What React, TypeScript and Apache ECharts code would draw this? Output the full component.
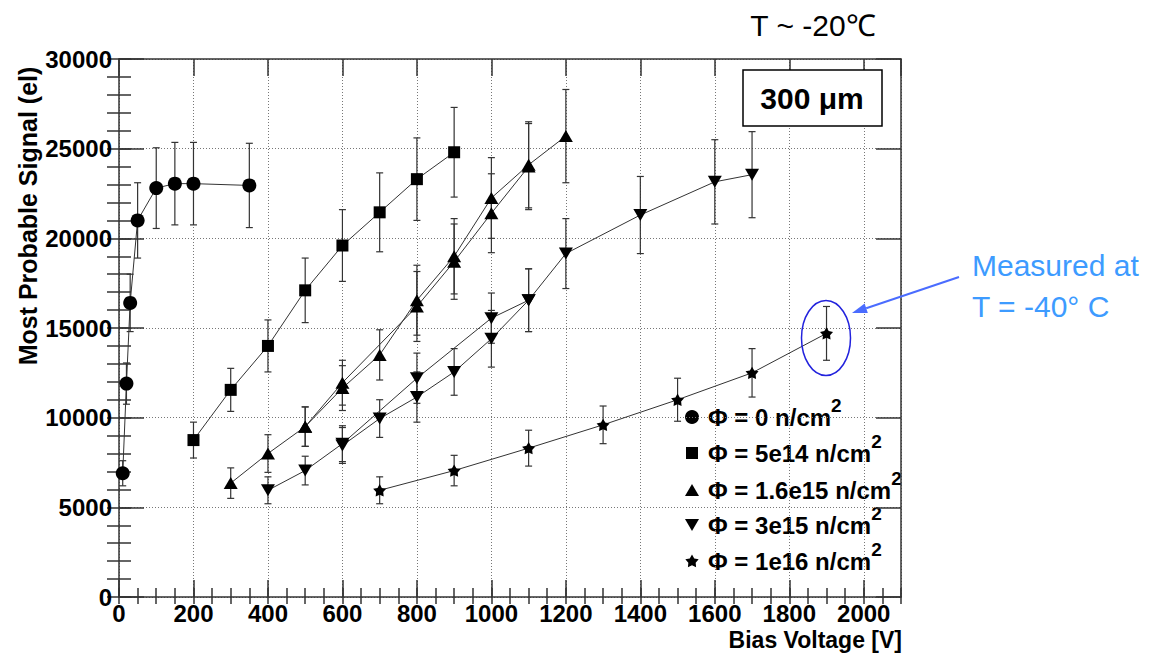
import React, { useEffect, useRef } from "react";
import * as echarts from "echarts";

// ---- data ----
const V_PHI0 = [10, 20, 30, 50, 100, 150, 200, 350];
const S_PHI0 = [6900, 11900, 16400, 21000, 22800, 23050, 23050, 22950];
const E_PHI0 = [700, 1150, 1600, 2100, 2250, 2300, 2300, 2350];

const V_5E14 = [200, 300, 400, 500, 600, 700, 800, 900];
const S_5E14 = [8750, 11550, 14000, 17100, 19600, 21450, 23300, 24800];
const E_5E14 = [1000, 1200, 1450, 1800, 2000, 2200, 2300, 2500];

const V_16E15_A = [300, 400, 500, 600, 700, 800, 900, 1000, 1100, 1200];
const S_16E15_A = [6350, 8000, 9500, 11650, 13500, 16550, 19000, 22250, 24100, 25700];
const E_16E15_A = [850, 1050, 1100, 1250, 1400, 1950, 2100, 2250, 2400, 2600];

const V_16E15_B = [500, 600, 800, 900, 1000, 1100];
const S_16E15_B = [9500, 11950, 16200, 18700, 21400, 24000];
const E_16E15_B = [1100, 1250, 1950, 2100, 2200, 2400];

const V_3E15_A = [400, 500, 600, 800, 1000, 1100, 1200, 1400, 1600, 1700];
const S_3E15_A = [5950, 7050, 8550, 12200, 15550, 16550, 19150, 21300, 23150, 23550];
const E_3E15_A = [750, 800, 1000, 1400, 1400, 1750, 1950, 2150, 2350, 2400];

const V_3E15_B = [600, 700, 800, 900, 1000, 1100];
const S_3E15_B = [8450, 9950, 11150, 12550, 14400, 16550];
const E_3E15_B = [1000, 1050, 1400, 1300, 1580, 1750];

const V_1E16 = [700, 900, 1100, 1300, 1500, 1700, 1900];
const S_1E16 = [5950, 7050, 8300, 9600, 11000, 12500, 14700];
const E_1E16 = [750, 850, 1000, 1050, 1200, 1350, 1500];

const LEGEND_LABELS = ["0", "5e14", "1.6e15", "3e15", "1e16"];
const X_MAX = 2100;
const Y_MAX = 30000;

const STAR =
  "path://M0,-10 L3.2,-4.4 L9.51,-3.09 L5.2,1.7 L5.88,8.09 L0,5.5 L-5.88,8.09 L-5.2,1.7 L-9.51,-3.09 L-3.2,-4.4 Z";

const FONT = "'Liberation Sans', Arial, Helvetica, sans-serif";

type Group = { v: number[]; s: number[]; e: number[]; symbol: string; size: any; rotate?: number };

const GROUPS: Group[] = [
  { v: V_PHI0, s: S_PHI0, e: E_PHI0, symbol: "circle", size: 14 },
  { v: V_5E14, s: S_5E14, e: E_5E14, symbol: "rect", size: 12 },
  { v: V_16E15_A, s: S_16E15_A, e: E_16E15_A, symbol: "triangle", size: [14, 12] },
  { v: V_16E15_B, s: S_16E15_B, e: E_16E15_B, symbol: "triangle", size: [14, 12] },
  { v: V_3E15_A, s: S_3E15_A, e: E_3E15_A, symbol: "triangle", size: [14, 12], rotate: 180 },
  { v: V_3E15_B, s: S_3E15_B, e: E_3E15_B, symbol: "triangle", size: [14, 12], rotate: 180 },
  { v: V_1E16, s: S_1E16, e: E_1E16, symbol: STAR, size: 13 },
];

function starPoints(cx: number, cy: number, r: number): number[][] {
  const pts: number[][] = [];
  for (let i = 0; i < 10; i++) {
    const a = (-90 + i * 36) * (Math.PI / 180);
    const rr = i % 2 === 0 ? r : r * 0.55;
    pts.push([cx + rr * Math.cos(a), cy + rr * Math.sin(a)]);
  }
  return pts;
}

export default function App() {
  const ref = useRef<HTMLDivElement>(null);

  useEffect(() => {
    if (!ref.current) return;
    const chart = echarts.init(ref.current, undefined, { renderer: "svg" });

    const frameColor = "#333";
    const splitStyle = { show: true, lineStyle: { type: [1, 2] as any, color: "#777", width: 1 } };
    const plain = (v: number) => String(v);

    const xBase = { type: "value" as const, min: 0, max: X_MAX, gridIndex: 0 };
    const yBase = { type: "value" as const, min: 0, max: Y_MAX, gridIndex: 0 };

    const xAxis: any[] = [
      {
        ...xBase,
        position: "bottom",
        interval: 200,
        axisLine: { show: true, onZero: false, lineStyle: { color: frameColor, width: 1.5 } },
        axisTick: { show: true, inside: true, length: 17, lineStyle: { color: frameColor, width: 1.5 } },
        axisLabel: {
          show: true,
          showMaxLabel: false,
          margin: 4,
          color: "#000",
          fontFamily: FONT,
          fontWeight: "bold",
          fontSize: 24,
          formatter: plain,
        },
        splitLine: splitStyle,
      },
      {
        ...xBase,
        position: "bottom",
        interval: 50,
        axisLine: { show: false },
        axisTick: { show: true, inside: true, length: 9, lineStyle: { color: frameColor, width: 1.5 } },
        axisLabel: { show: false },
        splitLine: { show: false },
      },
      {
        ...xBase,
        position: "top",
        interval: 200,
        axisLine: { show: true, onZero: false, lineStyle: { color: frameColor, width: 1.5 } },
        axisTick: { show: true, inside: true, length: 17, lineStyle: { color: frameColor, width: 1.5 } },
        axisLabel: { show: false },
        splitLine: { show: false },
      },
      {
        ...xBase,
        position: "top",
        interval: 50,
        axisLine: { show: false },
        axisTick: { show: true, inside: true, length: 7, lineStyle: { color: frameColor, width: 1.5 } },
        axisLabel: { show: false },
        splitLine: { show: false },
      },
    ];

    const yAxis: any[] = [
      {
        ...yBase,
        position: "left",
        interval: 5000,
        axisLine: { show: true, onZero: false, lineStyle: { color: frameColor, width: 1.5 } },
        axisTick: { show: true, inside: true, length: 25, lineStyle: { color: frameColor, width: 1.5 } },
        axisLabel: {
          show: true,
          margin: 7,
          color: "#000",
          fontFamily: FONT,
          fontWeight: "bold",
          fontSize: 24,
          formatter: plain,
        },
        splitLine: splitStyle,
      },
      {
        ...yBase,
        position: "left",
        interval: 1000,
        axisLine: { show: false },
        axisTick: { show: true, inside: true, length: 12, lineStyle: { color: frameColor, width: 1.5 } },
        axisLabel: { show: false },
        splitLine: { show: false },
      },
      {
        ...yBase,
        position: "right",
        interval: 5000,
        axisLine: { show: true, onZero: false, lineStyle: { color: frameColor, width: 1.5 } },
        axisTick: { show: true, inside: true, length: 25, lineStyle: { color: frameColor, width: 1.5 } },
        axisLabel: { show: false },
        splitLine: { show: false },
      },
      {
        ...yBase,
        position: "right",
        interval: 1000,
        axisLine: { show: false },
        axisTick: { show: true, inside: true, length: 12, lineStyle: { color: frameColor, width: 1.5 } },
        axisLabel: { show: false },
        splitLine: { show: false },
      },
    ];

    const series: any[] = [];
    GROUPS.forEach((g, gi) => {
      const pts = g.v.map((v, i) => [v, g.s[i], g.e[i]]);
      series.push({
        type: "custom",
        name: "err" + gi,
        xAxisIndex: 0,
        yAxisIndex: 0,
        z: 2,
        silent: true,
        encode: { x: 0, y: 1 },
        data: pts,
        renderItem: (params: any, api: any) => {
          const x = api.value(0);
          const y = api.value(1);
          const e = api.value(2);
          const top = api.coord([x, y + e]);
          const bot = api.coord([x, y - e]);
          const w = 3.5;
          const st = { stroke: "#333", lineWidth: 1.2 };
          return {
            type: "group",
            children: [
              { type: "line", shape: { x1: top[0], y1: top[1], x2: bot[0], y2: bot[1] }, style: st },
              { type: "line", shape: { x1: top[0] - w, y1: top[1], x2: top[0] + w, y2: top[1] }, style: st },
              { type: "line", shape: { x1: bot[0] - w, y1: bot[1], x2: bot[0] + w, y2: bot[1] }, style: st },
            ],
          };
        },
      });
      series.push({
        type: "line",
        name: "s" + gi,
        xAxisIndex: 0,
        yAxisIndex: 0,
        z: 3,
        data: g.v.map((v, i) => [v, g.s[i]]),
        symbol: g.symbol,
        symbolSize: g.size,
        symbolRotate: g.rotate || 0,
        symbolKeepAspect: true,
        showAllSymbol: true,
        itemStyle: { color: "#000", borderWidth: 0 },
        lineStyle: { color: "#333", width: 1 },
        silent: true,
      });
    });

    // legend drawn with graphic
    const LX = 692;
    const rows = [417, 453, 490, 525, 561];
    const legendMarkers: any[] = [
      { type: "circle", shape: { cx: LX, cy: rows[0], r: 7 }, style: { fill: "#000" } },
      { type: "rect", shape: { x: LX - 6, y: rows[1] - 6, width: 12, height: 12 }, style: { fill: "#000" } },
      {
        type: "polygon",
        shape: { points: [[LX - 7, rows[2] + 6], [LX + 7, rows[2] + 6], [LX, rows[2] - 6]] },
        style: { fill: "#000" },
      },
      {
        type: "polygon",
        shape: { points: [[LX - 7, rows[3] - 6], [LX + 7, rows[3] - 6], [LX, rows[3] + 6]] },
        style: { fill: "#000" },
      },
      { type: "polygon", shape: { points: starPoints(LX, rows[4] + 0.5, 7) }, style: { fill: "#000" } },
    ];
    const legendTexts: any[] = LEGEND_LABELS.map((lab, i) => ({
      type: "text",
      x: 708,
      y: rows[i],
      style: {
        text: `{t|Φ = ${lab} n/cm}{s|2}`,
        verticalAlign: "middle",
        align: "left",
        fill: "#000",
        rich: {
          t: { fontFamily: FONT, fontWeight: "bold", fontSize: 24, lineHeight: 42, fill: "#000" },
          s: { fontFamily: FONT, fontWeight: "bold", fontSize: 19, lineHeight: 19, verticalAlign: "top", fill: "#000" },
        },
      },
    }));

    // arrow geometry
    const ax1 = 959, ay1 = 277, ax2 = 852, ay2 = 313;
    const dx = ax2 - ax1, dy = ay2 - ay1;
    const len = Math.sqrt(dx * dx + dy * dy);
    const ux = dx / len, uy = dy / len;
    const hl = 15, hw = 5;
    const bx = ax2 - hl * ux, by = ay2 - hl * uy;
    const nx = -uy, ny = ux;

    const graphic: any[] = [
      ...legendMarkers,
      ...legendTexts,
      {
        type: "text",
        x: 28,
        y: 216,
        rotation: Math.PI / 2,
        style: {
          text: "Most Probable Signal (el)",
          fontFamily: FONT,
          fontWeight: "bold",
          fontSize: 25,
          fill: "#000",
          align: "center",
          verticalAlign: "middle",
        },
      },
      {
        type: "text",
        x: 902,
        y: 640,
        style: {
          text: "Bias Voltage [V]",
          fontFamily: FONT,
          fontWeight: "bold",
          fontSize: 23,
          fill: "#000",
          align: "right",
          verticalAlign: "middle",
        },
      },
      {
        type: "text",
        x: 813,
        y: 25,
        style: {
          text: "T ~ -20℃",
          fontFamily: FONT,
          fontSize: 30,
          fill: "#000",
          align: "center",
          verticalAlign: "middle",
        },
      },
      {
        type: "rect",
        shape: { x: 743, y: 70, width: 139, height: 56 },
        style: { fill: "#fff", stroke: "#000", lineWidth: 1.5 },
        z: 10,
      },
      {
        type: "text",
        x: 812,
        y: 98,
        z: 11,
        style: {
          text: "300 μm",
          fontFamily: FONT,
          fontWeight: "bold",
          fontSize: 30,
          fill: "#000",
          align: "center",
          verticalAlign: "middle",
        },
      },
      {
        type: "ellipse",
        shape: { cx: 826, cy: 338, rx: 24.5, ry: 37.5 },
        style: { fill: "none", stroke: "#2222dd", lineWidth: 1.5 },
        z: 10,
      },
      {
        type: "line",
        shape: { x1: ax1, y1: ay1, x2: bx, y2: by },
        style: { stroke: "#4a6cff", lineWidth: 2 },
        z: 10,
      },
      {
        type: "polygon",
        shape: {
          points: [
            [ax2, ay2],
            [bx + hw * nx, by + hw * ny],
            [bx - hw * nx, by - hw * ny],
          ],
        },
        style: { fill: "#4a6cff" },
        z: 10,
      },
      {
        type: "text",
        x: 972,
        y: 265,
        style: {
          text: "Measured at",
          fontFamily: FONT,
          fontSize: 30,
          fill: "#3d9bff",
          align: "left",
          verticalAlign: "middle",
        },
      },
      {
        type: "text",
        x: 972,
        y: 306,
        style: {
          text: "T = -40° C",
          fontFamily: FONT,
          fontSize: 30,
          fill: "#3d9bff",
          align: "left",
          verticalAlign: "middle",
        },
      },
    ];

    chart.setOption({
      animation: false,
      backgroundColor: "#fff",
      grid: { left: 119, right: 254, top: 59, bottom: 63, containLabel: false },
      xAxis,
      yAxis,
      series,
      graphic,
    });

    return () => {
      chart.dispose();
    };
  }, []);

  return (
    <div
      ref={ref}
      style={{ position: "fixed", left: 0, top: 0, width: 1155, height: 660, background: "#fff" }}
    />
  );
}
